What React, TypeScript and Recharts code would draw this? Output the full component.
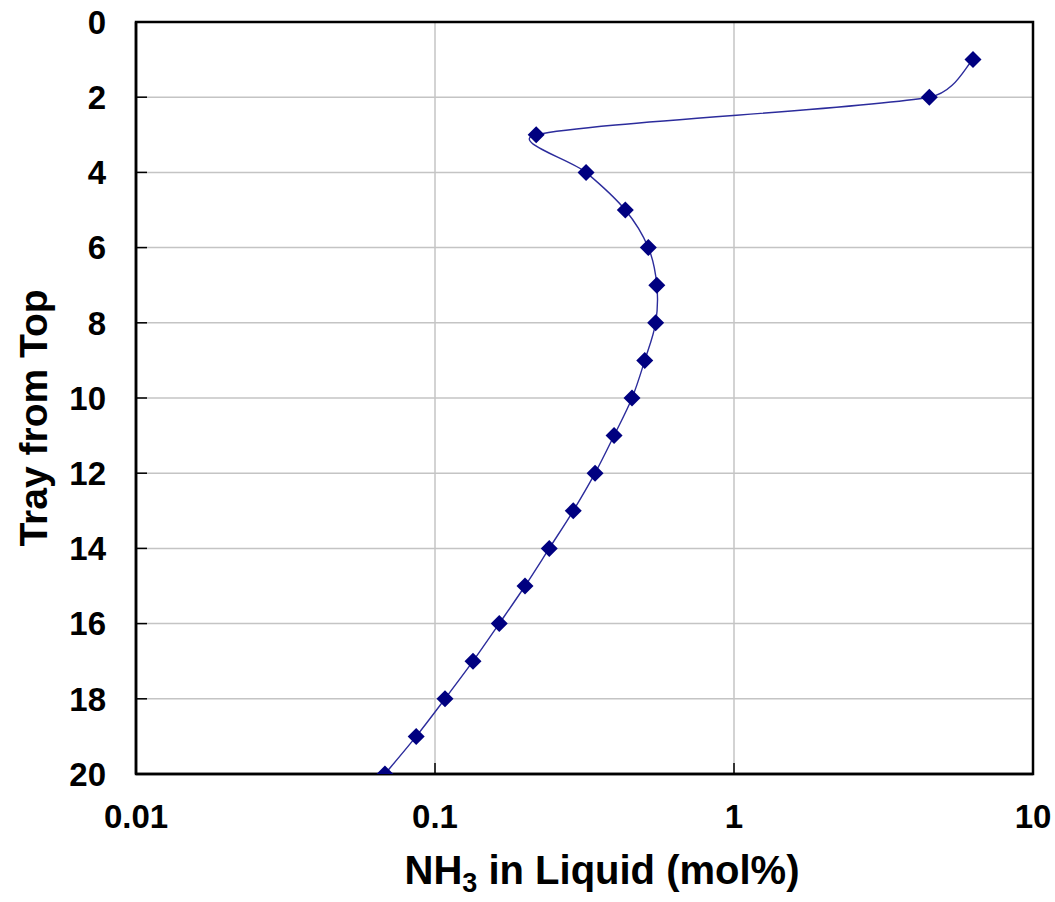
import { LineChart, Line, XAxis, YAxis, CartesianGrid, ReferenceArea, Label } from 'recharts'

const trays = [1, 2, 3, 4, 5, 6, 7, 8, 9, 10, 11, 12, 13, 14, 15, 16, 17, 18, 19, 20]
const nh3Liquid = [6.3, 4.5, 0.218, 0.32, 0.433, 0.517, 0.552, 0.547, 0.503, 0.456, 0.397, 0.343, 0.29, 0.241, 0.2, 0.164, 0.134, 0.108, 0.0865, 0.068]
const xTicks = [0.01, 0.1, 1, 10]
const yTicks = [0, 2, 4, 6, 8, 10, 12, 14, 16, 18, 20]

const rows = trays.map((t, i) => ({ tray: t, nh3: nh3Liquid[i] }))

const FONT = '"Liberation Sans", Arial, sans-serif'
const NAVY = '#000080'

// Excel-like smoothed line: Catmull-Rom handles, clamped to part of the segment length
const smoothCurve = (context: any) => {
  let pts: number[][] = []
  const clamp = (dx: number, dy: number, max: number) => {
    const len = Math.hypot(dx, dy)
    return len > max && len > 0 ? [dx * max / len, dy * max / len] : [dx, dy]
  }
  return {
    areaStart() {},
    areaEnd() {},
    lineStart() { pts = [] },
    point(x: number, y: number) { pts.push([+x, +y]) },
    lineEnd() {
      if (!pts.length) return
      context.moveTo(pts[0][0], pts[0][1])
      for (let i = 0; i < pts.length - 1; i++) {
        const p0 = pts[i - 1] || pts[i], p1 = pts[i], p2 = pts[i + 1], p3 = pts[i + 2] || pts[i + 1]
        const seg = Math.hypot(p2[0] - p1[0], p2[1] - p1[1]) * 0.45
        const h1 = clamp((p2[0] - p0[0]) / 6, (p2[1] - p0[1]) / 6, seg)
        const h2 = clamp((p3[0] - p1[0]) / 6, (p3[1] - p1[1]) / 6, seg)
        context.bezierCurveTo(p1[0] + h1[0], p1[1] + h1[1], p2[0] - h2[0], p2[1] - h2[1], p2[0], p2[1])
      }
    },
  }
}

const Diamond = (props: any) => {
  const { cx, cy, index } = props
  if (cx == null || cy == null) return <g key={index} />
  const r = 8.5
  return <path key={index} d={`M${cx},${cy - r}L${cx + r},${cy}L${cx},${cy + r}L${cx - r},${cy}Z`} fill={NAVY} />
}

const XTick = ({ x, y, payload }: any) => (
  <text x={x} y={y} textAnchor="middle" dy="0.71em"
    fontFamily={FONT} fontWeight="bold" fontSize={33} fill="#000">
    {String(payload.value)}
  </text>
)

const YTick = ({ x, y, payload }: any) => (
  <text x={x} y={y} textAnchor="end" dy="0.36em"
    fontFamily={FONT} fontWeight="bold" fontSize={33} fill="#000">
    {payload.value}
  </text>
)

const XTitle = () => (
  <text x={602} y={884} textAnchor="middle"
    fontFamily={FONT} fontWeight="bold" fontSize={40} fill="#000">
    NH<tspan fontSize={27} dy={8}>3</tspan><tspan dy={-8}> in Liquid (mol%)</tspan>
  </text>
)

const YTitle = () => (
  <text transform="translate(47,418) rotate(-90)" textAnchor="middle"
    fontFamily={FONT} fontWeight="bold" fontSize={39} fill="#000">
    Tray from Top
  </text>
)

export default function App() {
  return (
    <div style={{ position: 'absolute', left: 0, top: 0, width: 1055, height: 902, background: '#fff' }}>
      <LineChart width={1055} height={902} data={rows} layout="vertical"
        margin={{ top: 22, right: 22, bottom: 0, left: 0 }}>
        <CartesianGrid stroke="#c4c4c4" strokeWidth={1.5} />
        <XAxis type="number" scale="log" domain={[0.01, 10]} ticks={xTicks} allowDataOverflow
          height={128} tickSize={-11} tickMargin={42} tick={<XTick />}
          axisLine={{ stroke: '#000', strokeWidth: 2.5 }} tickLine={{ stroke: '#000', strokeWidth: 1.5 }}>
          <Label content={<XTitle />} />
        </XAxis>
        <YAxis type="number" dataKey="tray" domain={[0, 20]} ticks={yTicks} allowDataOverflow
          width={136} tickSize={-11} tickMargin={41} tick={<YTick />}
          axisLine={{ stroke: '#000', strokeWidth: 2.5 }} tickLine={{ stroke: '#000', strokeWidth: 1.5 }}>
          <Label content={<YTitle />} />
        </YAxis>
        <ReferenceArea x1={0.01} x2={10} y1={0} y2={20} fill="none" stroke="#000" strokeWidth={2.5} ifOverflow="visible" />
        <Line dataKey="nh3" type={smoothCurve as any} stroke="#2c2c9c" strokeWidth={1.4}
          dot={Diamond} activeDot={false} isAnimationActive={false} />
      </LineChart>
    </div>
  )
}
